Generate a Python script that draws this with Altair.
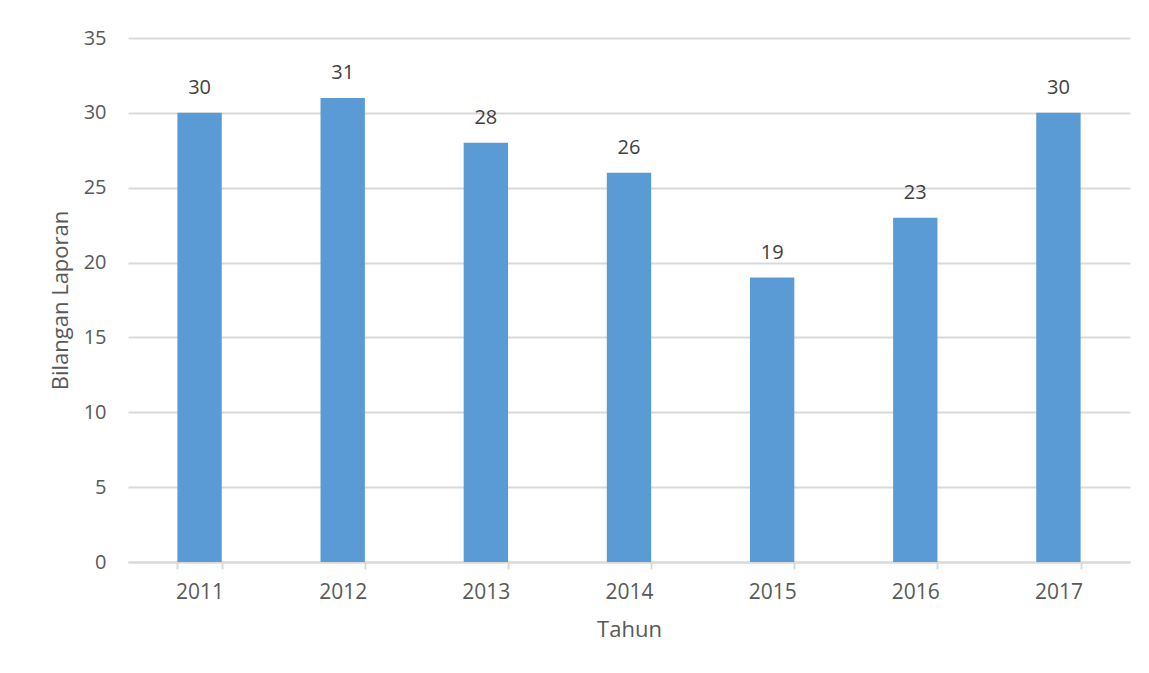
import altair as alt
import pandas as pd

years = ["2011", "2012", "2013", "2014", "2015", "2016", "2017"]
counts = [30, 31, 28, 26, 19, 23, 30]

df = pd.DataFrame({"Tahun": years, "Bilangan": counts})

FONT = "Open Sans"

base = alt.Chart(df).encode(
    x=alt.X(
        "Tahun:N",
        sort=years,
        title="Tahun",
        scale=alt.Scale(paddingInner=0.69, paddingOuter=0.345),
        axis=alt.Axis(
            labelAngle=0,
            tickBand="extent",
            domainColor="#D9D9D9",
            domainWidth=2,
            tickColor="#D9D9D9",
            tickWidth=2,
            tickSize=7,
            labelPadding=12,
            labelFontSize=21,
            labelColor="#595959",
            labelFont=FONT,
            titleFont=FONT,
            titleFontSize=22,
            titleFontWeight="normal",
            titleColor="#595959",
            titlePadding=17,
        ),
    ),
    y=alt.Y(
        "Bilangan:Q",
        title="Bilangan Laporan",
        scale=alt.Scale(domain=[0, 35], nice=False),
        axis=alt.Axis(
            values=[0, 5, 10, 15, 20, 25, 30, 35],
            domain=False,
            ticks=False,
            gridColor="#D9D9D9",
            gridWidth=2,
            labelPadding=22,
            labelFontSize=20,
            labelColor="#595959",
            labelFont=FONT,
            titleFont=FONT,
            titleFontSize=22,
            titleFontWeight="normal",
            titleColor="#595959",
            titlePadding=11,
        ),
    ),
)

bars = base.mark_bar(color="#5B9BD5")
labels = base.mark_text(
    baseline="bottom", dy=-15, fontSize=20, font=FONT, color="#404040"
).encode(text="Bilangan:Q")

chart = (
    (bars + labels)
    .properties(
        width=1002,
        height=524,
        autosize=alt.AutoSizeParams(type="none"),
        padding={"left": 120, "top": 30, "right": 11, "bottom": 95},
        background="white",
    )
    .configure_view(stroke=None)
    .configure_axisX(grid=False)
)

chart.save("out.html", embed_options={"renderer": "svg", "actions": False})
